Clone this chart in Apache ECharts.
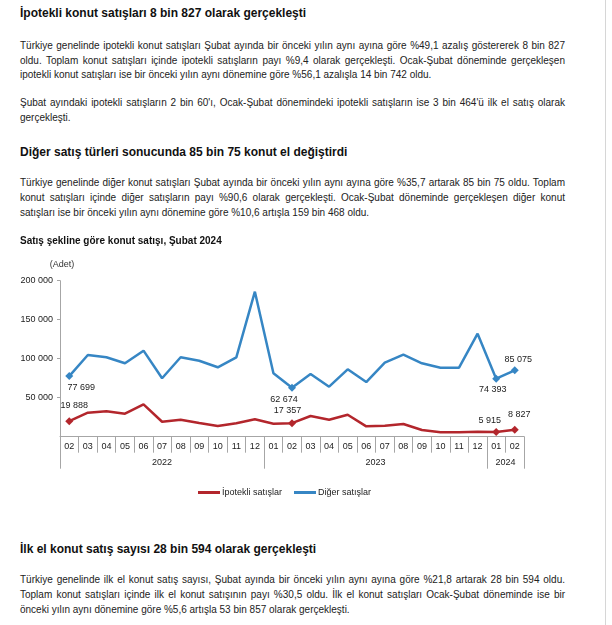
<!DOCTYPE html>
<html><head><meta charset="utf-8">
<script src="https://cdn.jsdelivr.net/npm/echarts@6/dist/echarts.min.js"></script>
<style>
html,body{margin:0;padding:0;background:#fff;width:612px;height:625px;overflow:hidden;}
body{position:relative;font-family:"Liberation Sans",Arial,sans-serif;color:#222;}
.h{position:absolute;left:20px;font-size:12px;font-weight:bold;color:#111;white-space:nowrap;line-height:16px;}
.l{position:absolute;left:20px;width:545px;font-size:10px;line-height:14px;white-space:nowrap;}
.j{text-align:justify;text-align-last:justify;}
#vline{position:absolute;left:605px;top:0;width:1px;height:625px;background:#d6d6d6;}
#chart{position:absolute;left:0;top:230px;width:612px;height:290px;}
</style></head>
<body>
<div class="h" style="top:5px">İpotekli konut satışları 8 bin 827 olarak gerçekleşti</div>
<div class="l j" style="top:39px">Türkiye genelinde ipotekli konut satışları Şubat ayında bir önceki yılın aynı ayına göre %49,1 azalış göstererek 8 bin 827</div>
<div class="l j" style="top:54px">oldu. Toplam konut satışları içinde ipotekli satışların payı %9,4 olarak gerçekleşti. Ocak-Şubat döneminde gerçekleşen</div>
<div class="l" style="top:68px">ipotekli konut satışları ise bir önceki yılın aynı dönemine göre %56,1 azalışla 14 bin 742 oldu.</div>
<div class="l j" style="top:96px">Şubat ayındaki ipotekli satışların 2 bin 60'ı, Ocak-Şubat dönemindeki ipotekli satışların ise 3 bin 464'ü ilk el satış olarak</div>
<div class="l" style="top:111px">gerçekleşti.</div>
<div class="h" style="top:144px">Diğer satış türleri sonucunda 85 bin 75 konut el değiştirdi</div>
<div class="l j" style="top:176px">Türkiye genelinde diğer konut satışları Şubat ayında bir önceki yılın aynı ayına göre %35,7 artarak 85 bin 75 oldu. Toplam</div>
<div class="l j" style="top:191px">konut satışları içinde diğer satışların payı %90,6 olarak gerçekleşti. Ocak-Şubat döneminde gerçekleşen diğer konut</div>
<div class="l" style="top:206px">satışları ise bir önceki yılın aynı dönemine göre %10,6 artışla 159 bin 468 oldu.</div>
<div id="chart"></div>
<div class="h" style="top:541px">İlk el konut satış sayısı 28 bin 594 olarak gerçekleşti</div>
<div class="l j" style="top:573px">Türkiye genelinde ilk el konut satış sayısı, Şubat ayında bir önceki yılın aynı ayına göre %21,8 artarak 28 bin 594 oldu.</div>
<div class="l j" style="top:588px">Toplam konut satışları içinde ilk el konut satışının payı %30,5 oldu. İlk el konut satışları Ocak-Şubat döneminde ise bir</div>
<div class="l" style="top:603px">önceki yılın aynı dönemine göre %5,6 artışla 53 bin 857 olarak gerçekleşti.</div>
<div id="vline"></div>
<script>
// ---- data ----
const chartTitle = 'Satış şekline göre konut satışı, Şubat 2024';
const unitLabel = '(Adet)';
const months = ['02','03','04','05','06','07','08','09','10','11','12','01','02','03','04','05','06','07','08','09','10','11','12','01','02'];
const years  = ['2022','2022','2022','2022','2022','2022','2022','2022','2022','2022','2022',
                '2023','2023','2023','2023','2023','2023','2023','2023','2023','2023','2023','2023',
                '2024','2024'];
const seriesNames = ['İpotekli satışlar', 'Diğer satışlar'];
const ipotekli = [19888, 30800, 32600, 29500, 41500, 19200, 21800, 17600, 13700, 17200, 22300, 16700, 17357, 26500, 21800, 28200, 13300, 14100, 16300, 8600, 5600, 5700, 6400, 5915, 8827];
const diger    = [77699, 104700, 101800, 94100, 110300, 74900, 101800, 97400, 89000, 101800, 185900, 81300, 62674, 80400, 64100, 86400, 70100, 94900, 105100, 94100, 88500, 88500, 132100, 74393, 85075];
const markedIdx = [0, 12, 23, 24];
const yTicks = [0, 50000, 100000, 150000, 200000];

// ---- styles ----
const RED = '#b3262c', BLUE = '#3686c4';
const labelStyle = {
  0: { 0: ['top', [5, -2.5]], 12: ['top', [-4.5, 0.5]], 23: ['top', [-6.5, 1.5]], 24: ['top', [4.5, -1.5]] },
  1: { 0: ['bottom', [12, -2.5]], 12: ['bottom', [-8, -1.5]], 23: ['bottom', [-3.5, -2.5]], 24: ['top', [3.5, 2.5]] }
};
const fmt = v => String(v).replace(/\B(?=(\d{3})+(?!\d))/g, ' ');

function buildData(values, si, color) {
  return values.map((v, i) => {
    if (markedIdx.indexOf(i) < 0) return v;
    const ls = labelStyle[si][i];
    return {
      value: v, symbol: 'diamond', symbolSize: 8,
      itemStyle: { color: color },
      label: { show: true, position: ls[0], offset: ls[1], formatter: p => fmt(p.value),
               fontSize: 9, color: '#222', fontFamily: 'Liberation Sans' }
    };
  });
}

// year groups
const boundaries = [];
years.forEach((y, i) => { if (i === 0 || years[i - 1] !== y) boundaries.push(i); });
const yearLabelAt = {};
boundaries.forEach((s, k) => {
  const e = (k + 1 < boundaries.length ? boundaries[k + 1] : years.length) - 1;
  const mid = (s + e) / 2;
  yearLabelAt[Math.floor(mid)] = { text: years[s], half: mid % 1 !== 0 };
});

const chart = echarts.init(document.getElementById('chart'), null, { renderer: 'canvas' });
const axisGray = '#a6a6a6';
chart.setOption({
  animation: false,
  textStyle: { fontFamily: 'Liberation Sans' },
  title: { text: chartTitle, left: 20, top: 6, padding: 0,
           textStyle: { fontSize: 10, fontWeight: 'bold', color: '#111', fontFamily: 'Liberation Sans' } },
  legend: {
    left: 198, top: 258, padding: 0, itemGap: 12, itemWidth: 22, itemHeight: 3, icon: 'rect',
    data: seriesNames,
    textStyle: { fontSize: 9, color: '#222', padding: [0, 0, 0, -3], fontFamily: 'Liberation Sans' }
  },
  grid: { left: 60, right: 88, top: 50.7, height: 156, containLabel: false, outerBoundsMode: 'none' },
  xAxis: [{
    type: 'category', data: months, boundaryGap: true,
    axisLine: { lineStyle: { color: axisGray, width: 1 } },
    axisTick: { show: true, interval: 0, length: 16, lineStyle: { color: axisGray } },
    axisLabel: { interval: 0, margin: 5, fontSize: 9, color: '#222' }
  }, {
    type: 'category', data: years, boundaryGap: true, position: 'bottom', offset: 0,
    axisLine: { show: false },
    axisTick: { show: true, length: 32, lineStyle: { color: axisGray },
                interval: (idx) => boundaries.indexOf(idx) >= 0 },
    axisLabel: {
      interval: 0, margin: 21, fontSize: 9, color: '#222',
      formatter: (val, idx) => {
        const o = yearLabelAt[idx];
        if (!o) return '';
        return o.half ? '{s|' + o.text + '}' : o.text;
      },
      rich: { s: { padding: [0, 0, 0, 18.5], fontSize: 9, color: '#222' } }
    }
  }],
  yAxis: {
    type: 'value', min: yTicks[0], max: yTicks[yTicks.length - 1], interval: yTicks[1] - yTicks[0],
    name: unitLabel, nameLocation: 'end', nameGap: 12,
    nameTextStyle: { fontSize: 9, color: '#333', padding: [0, 0, 0, 4] },
    axisLine: { show: true, lineStyle: { color: axisGray } },
    axisTick: { show: true, length: 3, lineStyle: { color: axisGray } },
    splitLine: { show: false },
    axisLabel: { margin: 7, fontSize: 9, color: '#222', showMinLabel: false, formatter: v => fmt(v) }
  },
  series: [{
    name: seriesNames[0], type: 'line', symbol: 'none', data: buildData(ipotekli, 0, RED),
    lineStyle: { color: RED, width: 2.5 }, itemStyle: { color: RED }
  }, {
    name: seriesNames[1], type: 'line', symbol: 'none', data: buildData(diger, 1, BLUE),
    lineStyle: { color: BLUE, width: 2.5 }, itemStyle: { color: BLUE }
  }]
});
</script>
</body></html>
